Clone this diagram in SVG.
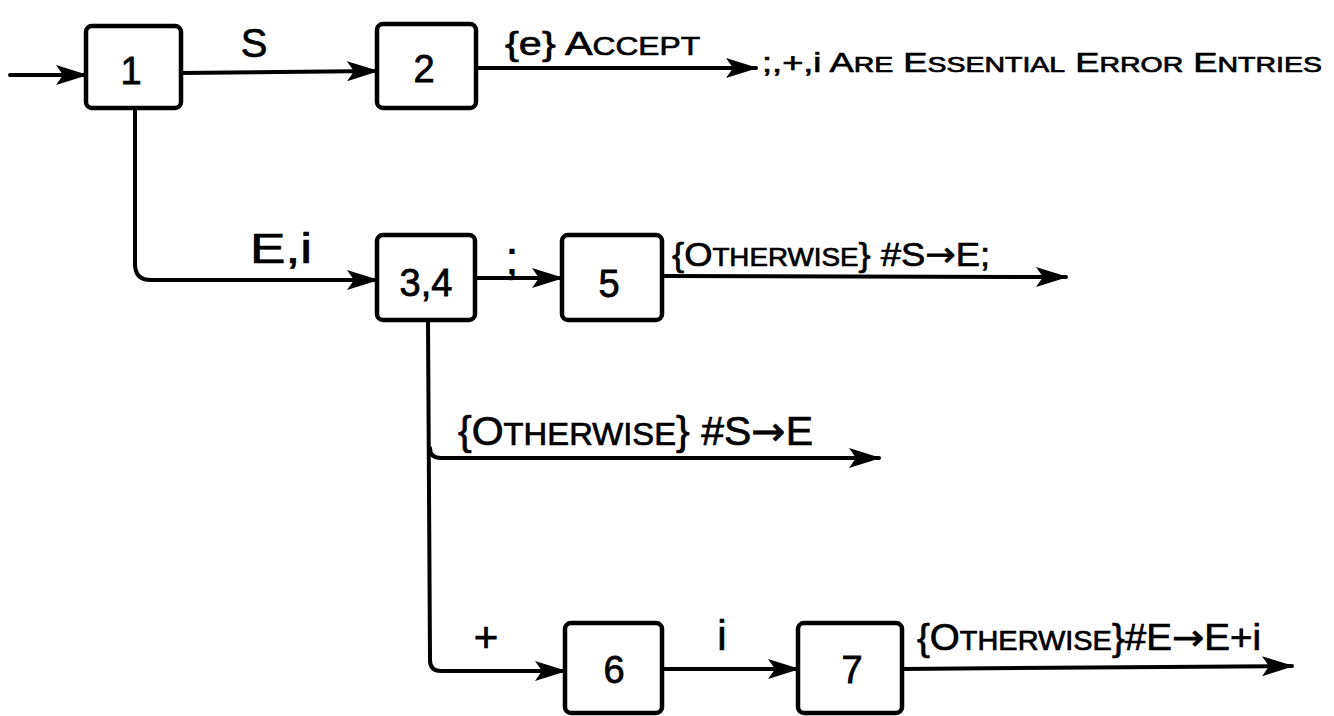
<svg xmlns="http://www.w3.org/2000/svg" width="1334" height="716" viewBox="0 0 1334 716">
<style>
.box{fill:#fff;stroke:#000;stroke-width:4.5}
.ln{fill:none;stroke:#000;stroke-width:4;stroke-linecap:round;stroke-linejoin:round}
.num{font-family:"Liberation Sans",Arial,sans-serif;font-size:38px;fill:#000;text-anchor:middle;stroke:#000;stroke-width:0.8}
.lbl{font-family:"Liberation Sans",Arial,sans-serif;fill:#000;stroke:#000;stroke-width:0.7}
.arw{font-family:"DejaVu Sans",sans-serif}
</style>
<defs>
<marker id="ah" markerUnits="userSpaceOnUse" markerWidth="32" markerHeight="24" refX="30" refY="12" orient="auto">
<path d="M0,2 L32,12 L0,22 L7,12 Z" fill="#000"/>
</marker>
</defs>
<rect width="1334" height="716" fill="#fff"/>
<g id="connectors">
<path class="ln" d="M10,75 H86" marker-end="url(#ah)"/>
<path class="ln" d="M181,73 L377,71" marker-end="url(#ah)"/>
<path class="ln" d="M476,68 L756,68" marker-end="url(#ah)"/>
<path class="ln" d="M135,108 V264 Q135,280 151,280 H377" marker-end="url(#ah)"/>
<path class="ln" d="M475,278 H562" marker-end="url(#ah)"/>
<path class="ln" d="M662,276 L1066,277" marker-end="url(#ah)"/>
<path class="ln" d="M430,448 Q430,458 441,458 H879" marker-end="url(#ah)"/>
<path class="ln" d="M428,320 L430,660 Q430,671 441,671 H565" marker-end="url(#ah)"/>
<path class="ln" d="M662,669 H798" marker-end="url(#ah)"/>
<path class="ln" d="M902,669 L1292,666" marker-end="url(#ah)"/>
</g>
<g id="labels" class="lbl">
<text x="254" y="57" font-size="40" text-anchor="middle">S</text>
<text x="505" y="55" font-size="34" textLength="195" lengthAdjust="spacingAndGlyphs">{e} A<tspan font-size="26">CCEPT</tspan></text>
<text x="762" y="72" font-size="28" textLength="560" lengthAdjust="spacingAndGlyphs">;,+,i A<tspan font-size="22">RE</tspan> E<tspan font-size="22">SSENTIAL</tspan> E<tspan font-size="22">RROR</tspan> E<tspan font-size="22">NTRIES</tspan></text>
<text x="250" y="263" font-size="42" textLength="62" lengthAdjust="spacingAndGlyphs">E,i</text>
<text x="512" y="274" font-size="46" text-anchor="middle">;</text>
<text x="672" y="266" font-size="34" textLength="318" lengthAdjust="spacingAndGlyphs">{O<tspan font-size="26">THERWISE</tspan>} #S<tspan class="arw">→</tspan>E;</text>
<text x="458" y="445" font-size="40" textLength="355" lengthAdjust="spacingAndGlyphs">{O<tspan font-size="32">THERWISE</tspan>} #S<tspan class="arw">→</tspan>E</text>
<text x="486" y="652" font-size="42" text-anchor="middle">+</text>
<text x="722" y="650" font-size="42" text-anchor="middle">i</text>
<text x="917" y="650" font-size="36" textLength="344" lengthAdjust="spacingAndGlyphs">{O<tspan font-size="27">THERWISE</tspan>}#E<tspan class="arw">→</tspan>E+i</text>
</g>
<g id="node1"><rect class="box" x="86" y="26" width="95" height="82" rx="6"/><text class="num" x="131" y="84">1</text></g>
<g id="node2"><rect class="box" x="377" y="24" width="99" height="84" rx="6"/><text class="num" x="424" y="82">2</text></g>
<g id="node34"><rect class="box" x="377" y="235" width="98" height="85" rx="6"/><text class="num" x="426" y="296">3,4</text></g>
<g id="node5"><rect class="box" x="562" y="235" width="100" height="85" rx="6"/><text class="num" x="609" y="297">5</text></g>
<g id="node6"><rect class="box" x="565" y="623" width="97" height="90" rx="6"/><text class="num" x="614" y="683">6</text></g>
<g id="node7"><rect class="box" x="798" y="623" width="104" height="90" rx="6"/><text class="num" x="852" y="683">7</text></g>
</svg>
